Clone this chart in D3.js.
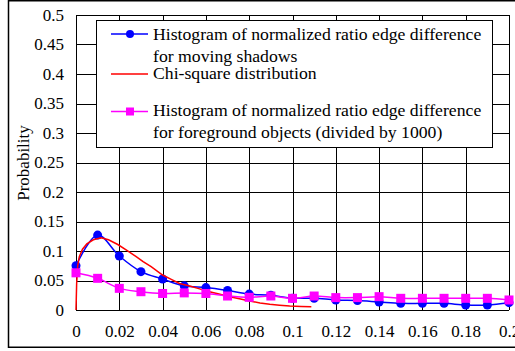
<!DOCTYPE html>
<html>
<head>
<meta charset="utf-8">
<script src="https://cdn.jsdelivr.net/npm/d3@7"></script>
<style>
  html, body { margin: 0; padding: 0; background: #fff; }
  svg { display: block; }
  text { font-family: "Liberation Serif", "Times New Roman", serif; fill: #000; }
</style>
</head>
<body>
<div id="chart"></div>
<script>
// Bin centres of the histograms (x axis)
const binX = [0, 0.01, 0.02, 0.03, 0.04, 0.05, 0.06, 0.07, 0.08, 0.09, 0.1,
              0.11, 0.12, 0.13, 0.14, 0.15, 0.16, 0.17, 0.18, 0.19, 0.2];

// Histogram of normalized ratio edge difference for moving shadows
const shadowProb = [0.075, 0.127, 0.0915, 0.065, 0.0525, 0.041, 0.038, 0.033, 0.027, 0.025, 0.02,
                    0.02, 0.017, 0.016, 0.0136, 0.0113, 0.0113, 0.0113, 0.0085, 0.0085, 0.0124];

// Histogram for foreground objects (divided by 1000)
const foregroundProb = [0.063, 0.0537, 0.0367, 0.031, 0.028, 0.029, 0.028, 0.0237, 0.0215, 0.0237, 0.0198,
                        0.0237, 0.021, 0.021, 0.0226, 0.0198, 0.0198, 0.0198, 0.0198, 0.0198, 0.017];

// Fitted chi-square density
const chiX = [0, 0.0003, 0.0008, 0.0015, 0.003, 0.005, 0.008, 0.0116, 0.015, 0.0193, 0.0235,
              0.0278, 0.031, 0.0347, 0.0375, 0.04, 0.044, 0.0478, 0.0525, 0.0563, 0.0617,
              0.066, 0.071, 0.0755, 0.0802, 0.085, 0.0895, 0.094, 0.0987, 0.104, 0.1087];
const chiY = [0, 0.045, 0.075, 0.09, 0.103, 0.112, 0.119, 0.1226, 0.119, 0.111, 0.101,
              0.0904, 0.082, 0.0734, 0.066, 0.0593, 0.052, 0.045, 0.0407, 0.0367, 0.031,
              0.027, 0.0226, 0.019, 0.0153, 0.012, 0.0096, 0.0082, 0.0068, 0.006, 0.0056];

const xTicks = [0, 0.02, 0.04, 0.06, 0.08, 0.1, 0.12, 0.14, 0.16, 0.18, 0.2];
const yTicks = [0, 0.05, 0.1, 0.15, 0.2, 0.25, 0.3, 0.35, 0.4, 0.45, 0.5];

const legendLabels = [
  ["Histogram of normalized ratio edge difference", "for moving shadows"],
  ["Chi-square distribution"],
  ["Histogram of normalized ratio edge difference", "for foreground objects (divided by 1000)"]
];

const W = 515, H = 351;
const plot = { left: 76, right: 509, top: 15, bottom: 310 };
const fontSize = 17;
const legendFontSize = 17.7;

const svg = d3.select("#chart").append("svg")
  .attr("width", W).attr("height", H);

// Outer chart border (right side runs past the page edge)
svg.append("rect")
  .attr("x", 8.5).attr("y", 0.75)
  .attr("width", W + 10).attr("height", 346.5)
  .attr("fill", "#fff").attr("stroke", "#000").attr("stroke-width", 1.5);

const x = d3.scaleLinear().domain([0, 0.2]).range([plot.left, plot.right]);
const y = d3.scaleLinear().domain([0, 0.5]).range([plot.bottom, plot.top]);

const crisp = v => Math.round(v) + 0.5;

// Grid
const grid = svg.append("g").attr("stroke", "#000").attr("stroke-width", 1);
grid.selectAll("line.h").data(yTicks).join("line")
  .attr("x1", plot.left).attr("x2", plot.right)
  .attr("y1", d => crisp(y(d))).attr("y2", d => crisp(y(d)));
grid.selectAll("line.v").data(xTicks).join("line")
  .attr("y1", plot.top).attr("y2", plot.bottom)
  .attr("x1", d => crisp(x(d))).attr("x2", d => crisp(x(d)));

// Axis labels via d3 axes, with their lines hidden
const yAxis = svg.append("g")
  .attr("transform", `translate(${plot.left},0)`)
  .call(d3.axisLeft(y).tickValues(yTicks).tickFormat(d => String(+d.toFixed(2))).tickSize(0).tickPadding(12));
const xAxis = svg.append("g")
  .attr("transform", `translate(0,${plot.bottom})`)
  .call(d3.axisBottom(x).tickValues(xTicks).tickFormat(d => String(+d.toFixed(2))).tickSize(0).tickPadding(15));
[yAxis, xAxis].forEach(g => {
  g.select(".domain").remove();
  g.selectAll("text")
    .attr("font-size", fontSize)
    .style("font-family", '"Liberation Serif", "Times New Roman", serif')
    .attr("fill", "#000");
});

// Y axis title
svg.append("text")
  .attr("transform", `translate(29,163) rotate(-90)`)
  .attr("text-anchor", "middle")
  .attr("font-size", fontSize)
  .text("Probability");

// Series
const smooth = d3.line().curve(d3.curveCatmullRom.alpha(0.5))
  .x(d => x(d[0])).y(d => y(d[1]));
const straight = d3.line().x(d => x(d[0])).y(d => y(d[1]));

const shadowPts = binX.map((v, i) => [v, shadowProb[i]]);
const fgPts = binX.map((v, i) => [v, foregroundProb[i]]);
const chiPts = chiX.map((v, i) => [v, chiY[i]]);

const BLUE = "#0000ff", RED = "#ff0000", MAGENTA = "#ff00ff";

svg.append("path").datum(shadowPts)
  .attr("d", smooth).attr("fill", "none").attr("stroke", BLUE).attr("stroke-width", 1.5);
svg.append("g").selectAll("circle").data(shadowPts).join("circle")
  .attr("cx", d => x(d[0])).attr("cy", d => y(d[1])).attr("r", 4.5).attr("fill", BLUE);

svg.append("path").datum(chiPts)
  .attr("d", straight).attr("fill", "none").attr("stroke", RED).attr("stroke-width", 1.5);

svg.append("path").datum(fgPts)
  .attr("d", smooth).attr("fill", "none").attr("stroke", MAGENTA).attr("stroke-width", 1.5);
svg.append("g").selectAll("rect").data(fgPts).join("rect")
  .attr("x", d => x(d[0]) - 4.5).attr("y", d => y(d[1]) - 4.5)
  .attr("width", 9).attr("height", 9).attr("fill", MAGENTA);

// Legend
const lg = svg.append("g");
lg.append("rect")
  .attr("x", 96.5).attr("y", 20.5).attr("width", 396).attr("height", 127)
  .attr("fill", "#fff").attr("stroke", "#000").attr("stroke-width", 1);

const legendRows = [
  { color: BLUE, marker: "circle", lineY: 34, baselines: [40, 62] },
  { color: RED, marker: null, lineY: 74, baselines: [79] },
  { color: MAGENTA, marker: "square", lineY: 111.5, baselines: [116, 138] }
];
legendRows.forEach((row, i) => {
  lg.append("line")
    .attr("x1", 111).attr("x2", 148).attr("y1", row.lineY).attr("y2", row.lineY)
    .attr("stroke", row.color).attr("stroke-width", 1.5);
  if (row.marker === "circle") {
    lg.append("circle").attr("cx", 130).attr("cy", row.lineY).attr("r", 4).attr("fill", row.color);
  } else if (row.marker === "square") {
    lg.append("rect").attr("x", 126).attr("y", row.lineY - 4).attr("width", 8).attr("height", 8)
      .attr("fill", row.color);
  }
  legendLabels[i].forEach((t, j) => {
    lg.append("text")
      .attr("x", 153).attr("y", row.baselines[j])
      .attr("font-size", legendFontSize)
      .text(t);
  });
});
</script>
</body>
</html>
